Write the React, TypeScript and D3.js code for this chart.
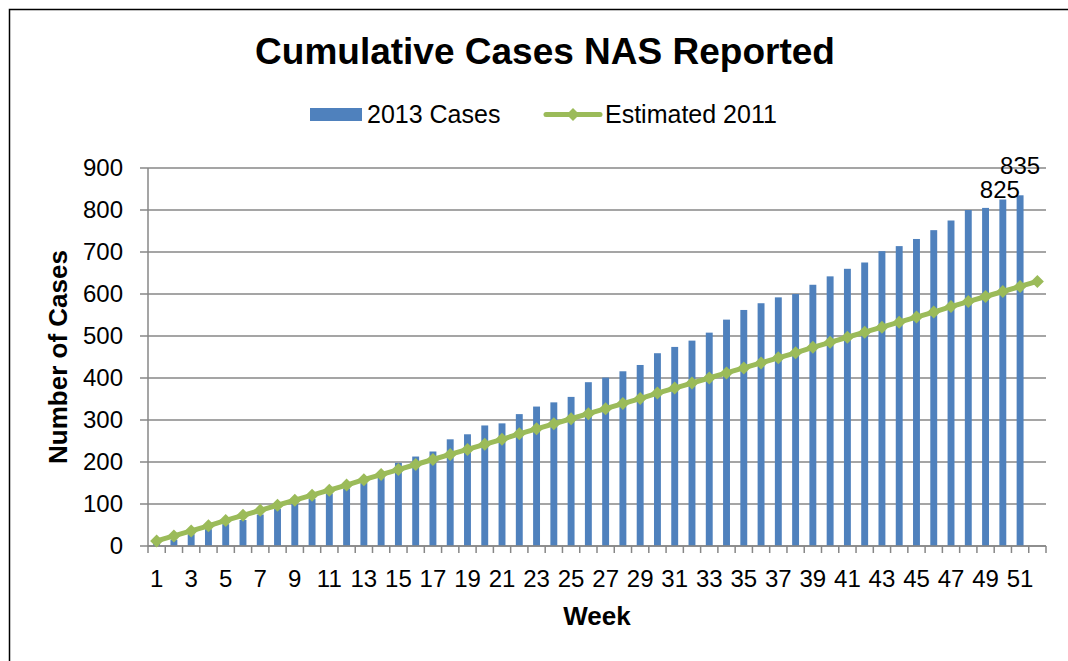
import React from "react";
import * as d3 from "d3";

const weeks: number[] = [
  1, 2, 3, 4, 5, 6, 7, 8, 9, 10, 11, 12, 13, 14, 15, 16, 17, 18, 19, 20, 21, 22, 23, 24, 25, 26,
  27, 28, 29, 30, 31, 32, 33, 34, 35, 36, 37, 38, 39, 40, 41, 42, 43, 44, 45, 46, 47, 48, 49, 50, 51, 52,
];

const cases2013: number[] = [
  5, 15, 28, 40, 52, 62, 75, 88, 100, 112, 125, 137, 150, 165, 198, 213, 225, 254, 266, 287, 292, 314,
  332, 342, 355, 390, 401, 416, 431, 459, 474, 489, 508, 539, 562, 578, 592, 600, 622, 642, 660, 675,
  702, 714, 731, 752, 775, 800, 805, 825, 835,
];

const estimated2011: number[] = [
  12, 24, 36, 48, 61, 73, 85, 97, 109, 121, 133, 145, 158, 170, 182, 194, 206, 218, 230, 242, 254, 267,
  279, 291, 303, 315, 327, 339, 351, 364, 376, 388, 400, 412, 424, 436, 448, 460, 473, 485, 497, 509,
  521, 533, 545, 557, 570, 582, 594, 606, 618, 630,
];

const yTicks: number[] = [0, 100, 200, 300, 400, 500, 600, 700, 800, 900];
const xTickLabels: number[] = [1, 3, 5, 7, 9, 11, 13, 15, 17, 19, 21, 23, 25, 27, 29, 31, 33, 35, 37, 39, 41, 43, 45, 47, 49, 51];
const dataLabels = [
  { week: 50, value: 825, lift: 2, shift: -3 },
  { week: 51, value: 835, lift: 21, shift: 0 },
];

const FONT = "'Liberation Sans', Arial, sans-serif";
const BAR = "#4F81BD";
const LINE = "#9BBB59";
const GRID = "#878787";

const diamond = (cx: number, cy: number, r: number) =>
  `M${cx},${cy - r}L${cx + r},${cy}L${cx},${cy + r}L${cx - r},${cy}Z`;

export default function App() {
  const left = 148,
    right = 1046,
    top = 168,
    bottom = 546;

  const x = d3
    .scaleBand<string>()
    .domain(weeks.map(String))
    .range([left, right])
    .paddingInner(0.6)
    .paddingOuter(0.3);
  const bw = x.bandwidth();
  const step = x.step();
  const cx = (w: number) => (x(String(w)) as number) + bw / 2;

  const y = d3.scaleLinear().domain([0, 900]).range([bottom, top]);

  const line = d3
    .line<number>()
    .x((_, i) => cx(weeks[i]))
    .y((d) => y(d));

  const boundaries = [...weeks.map((w) => cx(w) - step / 2), cx(weeks[weeks.length - 1]) + step / 2];

  return (
    <svg
      width={1068}
      height={661}
      style={{ position: "absolute", left: 0, top: 0, background: "#fff" }}
      fontFamily={FONT}
    >
      <rect x={0} y={0} width={1068} height={661} fill="#fff" />
      <rect x={9.5} y={9.5} width={1100} height={700} fill="none" stroke="#000" strokeWidth={1.5} />

      {/* Title */}
      <text x={545} y={64} textAnchor="middle" fontSize={37} fontWeight="bold" fill="#000">
        Cumulative Cases NAS Reported
      </text>

      {/* Legend */}
      <rect x={310} y={108} width={52} height={13} fill={BAR} />
      <text x={367} y={123} fontSize={25} fill="#000">
        2013 Cases
      </text>
      <line x1={546} x2={600} y1={114.5} y2={114.5} stroke={LINE} strokeWidth={5} strokeLinecap="round" />
      <path d={diamond(573, 114.5, 6.5)} fill={LINE} />
      <text x={605} y={123} fontSize={25} fill="#000">
        Estimated 2011
      </text>

      {/* Gridlines */}
      {yTicks.map((t) => (
        <line key={"g" + t} x1={left - 8} x2={right} y1={y(t)} y2={y(t)} stroke={GRID} strokeWidth={1.5} />
      ))}

      {/* Y axis */}
      <line x1={left} x2={left} y1={top} y2={bottom} stroke={GRID} strokeWidth={1.5} />
      {yTicks.map((t) => (
        <text key={"yl" + t} x={123} y={y(t)} dy="0.35em" textAnchor="end" fontSize={24} fill="#000">
          {t}
        </text>
      ))}

      {/* X axis ticks */}
      {boundaries.map((b, i) => (
        <line key={"xt" + i} x1={b} x2={b} y1={bottom} y2={bottom + 7} stroke={GRID} strokeWidth={1.5} />
      ))}

      {/* Bars */}
      {cases2013.map((v, i) => (
        <rect
          key={"b" + i}
          x={x(String(weeks[i])) as number}
          y={y(v)}
          width={bw}
          height={bottom - y(v)}
          fill={BAR}
        />
      ))}

      {/* X axis line on top of bars */}
      <line x1={left} x2={right} y1={bottom} y2={bottom} stroke={GRID} strokeWidth={1.5} />

      {/* Line series */}
      <path d={line(estimated2011) || ""} fill="none" stroke={LINE} strokeWidth={5} strokeLinejoin="round" />
      {estimated2011.map((v, i) => (
        <path key={"d" + i} d={diamond(cx(weeks[i]), y(v), 6.5)} fill={LINE} />
      ))}

      {/* Data labels */}
      {dataLabels.map((d) => (
        <text
          key={"dl" + d.week}
          x={cx(d.week) + d.shift}
          y={y(d.value) - d.lift}
          textAnchor="middle"
          fontSize={24}
          fill="#000"
        >
          {d.value}
        </text>
      ))}

      {/* X tick labels */}
      {xTickLabels.map((w) => (
        <text key={"xl" + w} x={cx(w)} y={587} textAnchor="middle" fontSize={24} fill="#000">
          {w}
        </text>
      ))}

      {/* Axis titles */}
      <text x={(left + right) / 2} y={625} textAnchor="middle" fontSize={26} fontWeight="bold" fill="#000">
        Week
      </text>
      <text
        transform={`translate(67, ${(top + bottom) / 2}) rotate(-90)`}
        textAnchor="middle"
        fontSize={26}
        fontWeight="bold"
        fill="#000"
      >
        Number of Cases
      </text>
    </svg>
  );
}
